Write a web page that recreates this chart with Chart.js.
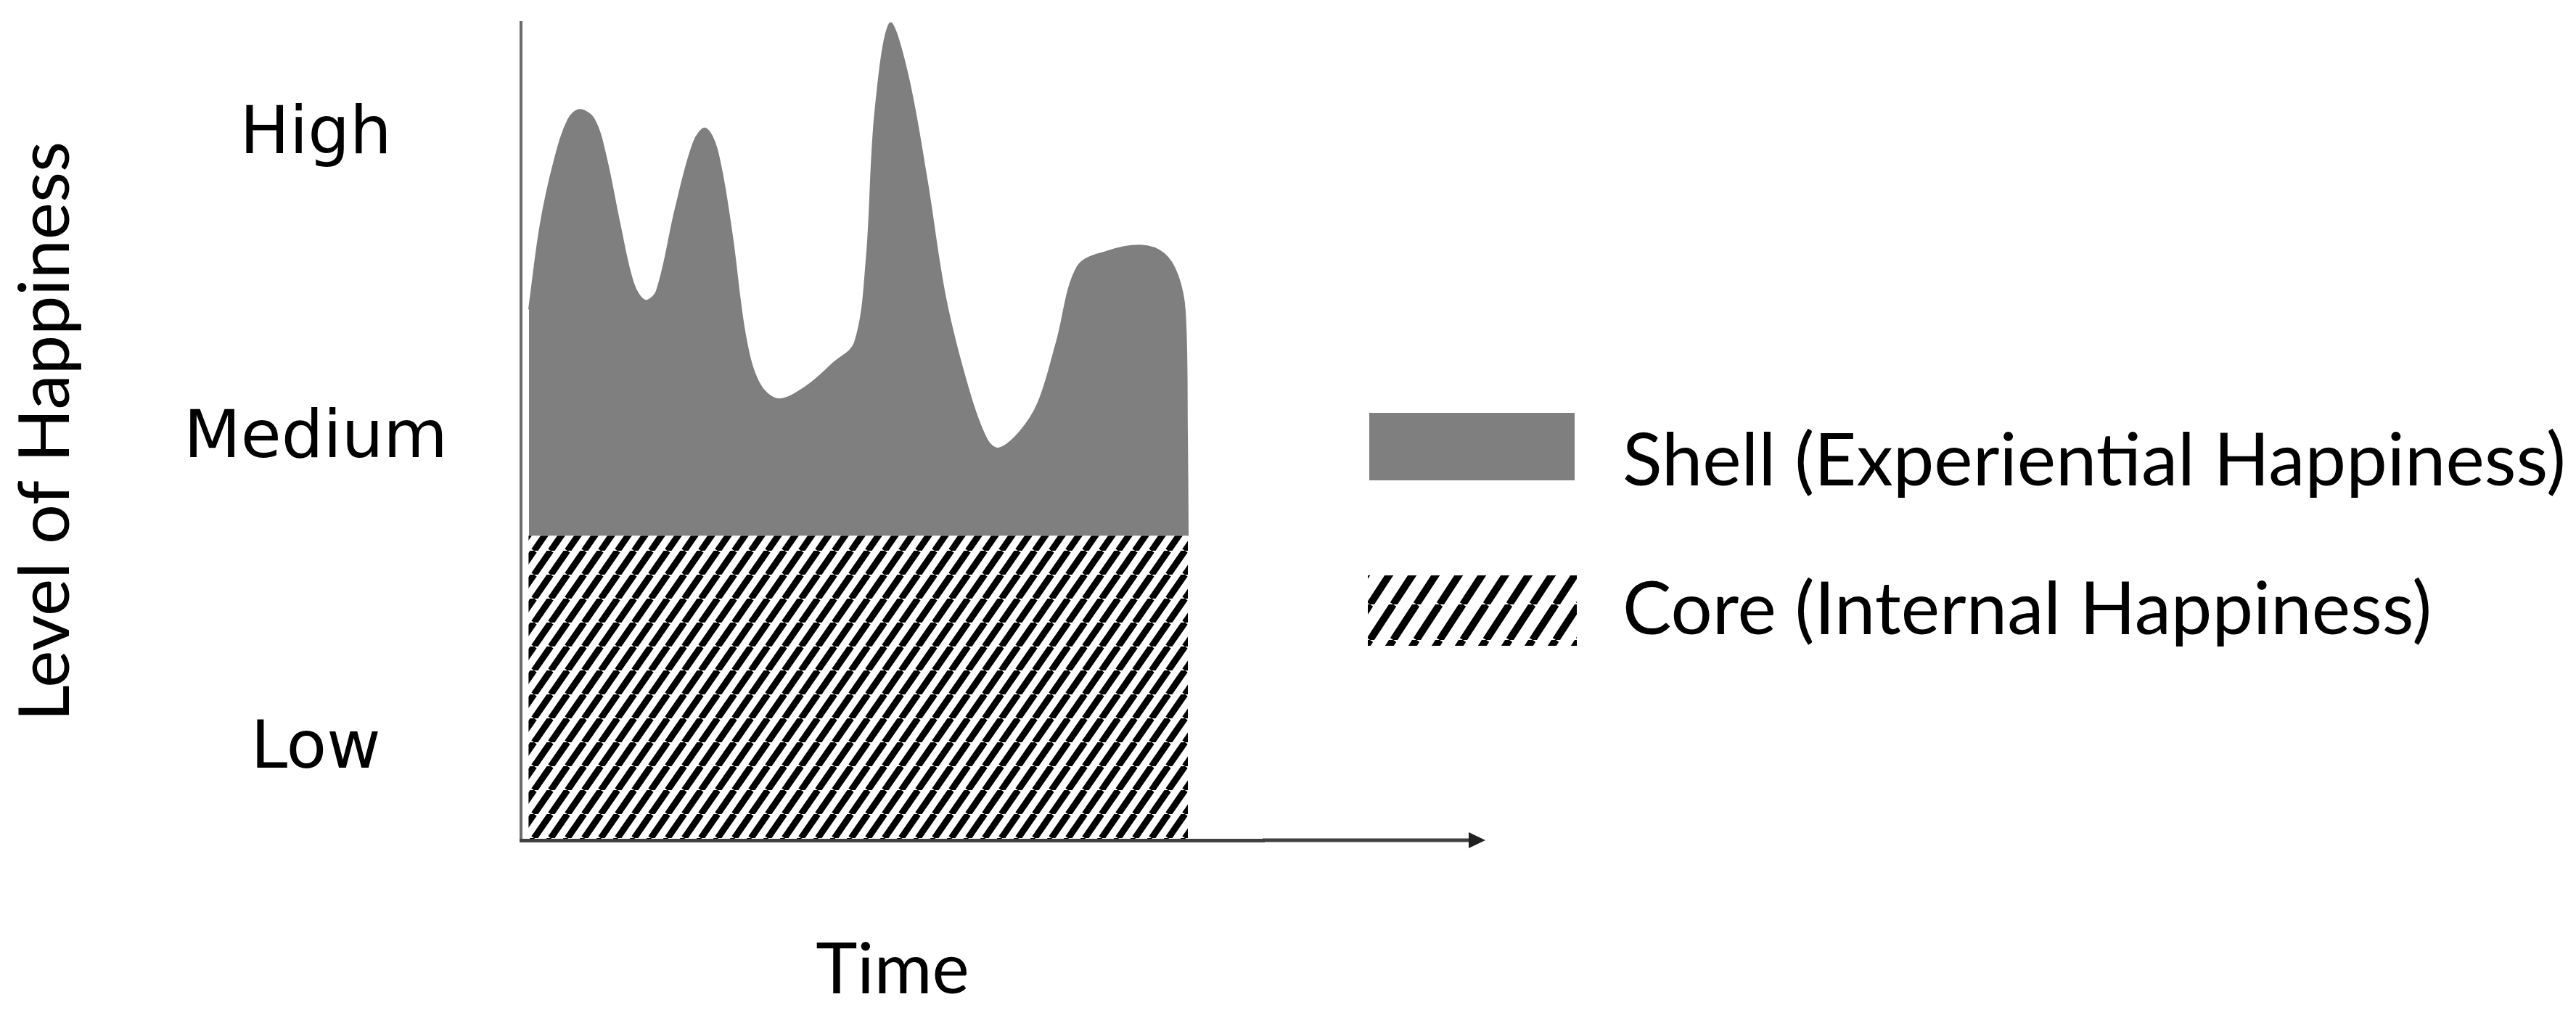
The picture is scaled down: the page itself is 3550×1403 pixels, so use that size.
<!DOCTYPE html>
<html>
<head>
<meta charset="utf-8">
<title>Level of Happiness</title>
<script src="https://cdn.jsdelivr.net/npm/chart.js@4"></script>
<style>
  body { margin: 0; background: #fff; }
  canvas { display: block; }
</style>
</head>
<body>
<canvas id="grafico" width="3550" height="1403"></canvas>
<script>
// dados (tempo 0..100, felicidade 0..101.2)
const seriesNames = ['Shell (Experiential Happiness)', 'Core (Internal Happiness)'];

const shellTime = [1.07, 2.64, 4.49, 6.35, 7.91, 9.86, 11.43, 13.28, 15.14, 16.70,
    18.26, 20.80, 23.24, 24.80, 26.37, 28.32, 30.18, 32.03, 34.57, 38.28,
    42.09, 44.92, 46.48, 47.66, 49.71, 52.05, 54.59, 57.13, 60.25, 62.70,
    64.26, 67.09, 69.63, 72.07, 74.90, 79.00, 83.40, 86.52, 88.38, 89.36,
    89.65, 89.75];
const shellLevel = [65.7, 76.3, 84.1, 89.2, 90.4, 89.2, 84.6, 76.3, 68.9, 66.8,
    68.0, 78.2, 86.4, 88.1, 85.5, 75.4, 62.5, 56.6, 54.6, 56.1,
    59.1, 61.6, 71.7, 90.1, 101.2, 94.7, 81.9, 67.1, 55.7, 49.6,
    48.5, 50.5, 54.2, 61.6, 71.0, 72.9, 73.6, 72.6, 69.9, 65.4,
    50.1, 37.7];

const coreTime = [1.0, 89.75];
const coreLevel = [37.7, 37.7];

const tickValues = [11.1, 49.5, 87.2];
const tickLabels = ['Low', 'Medium', 'High'];

const axisTitleY = 'Level of Happiness';
const axisTitleX = 'Time';

function hachura(w, h, lw) {
    const c = document.createElement('canvas');
    c.width = w;
    c.height = h;
    const g = c.getContext('2d');
    g.fillStyle = '#fff';
    g.fillRect(0, 0, w, h);
    g.strokeStyle = '#000';
    g.lineWidth = lw;
    for (let k = -1; k <= 1; k++) {
        g.beginPath();
        g.moveTo(k * w, h);
        g.lineTo(k * w + w, 0);
        g.stroke();
    }
    return g.createPattern(c, 'repeat');
}

const corePattern = hachura(23, 33, 9);
const legendPattern = hachura(32, 49, 10);
const shellColor = '#7f7f7f';
const textFont = 'Lato';

// legenda desenhada ao lado do grafico
const legendaLateral = {
    id: 'legendaLateral',
    afterDraw(chart) {
        const ctx = chart.ctx;
        const itens = [
            { fill: chart.data.datasets[0].backgroundColor, box: [1887, 569, 283, 93], base: 669 },
            { fill: legendPattern, box: [1885, 793, 288, 97], base: 874 }
        ];
        ctx.save();
        ctx.font = '101px ' + textFont;
        ctx.textBaseline = 'alphabetic';
        ctx.textAlign = 'left';
        itens.forEach((item, i) => {
            ctx.fillStyle = item.fill;
            ctx.fillRect(item.box[0], item.box[1], item.box[2], item.box[3]);
            ctx.fillStyle = '#000';
            ctx.fillText(chart.data.datasets[i].label, 2236, item.base);
        });
        ctx.restore();
    }
};

// seta no fim do eixo do tempo
const setaTempo = {
    id: 'setaTempo',
    afterDraw(chart) {
        const ctx = chart.ctx;
        const y = chart.scales.y.getPixelForValue(0);
        const x0 = chart.chartArea.right;
        ctx.save();
        ctx.strokeStyle = '#404040';
        ctx.lineWidth = 5;
        ctx.beginPath();
        ctx.moveTo(x0 - 2, y);
        ctx.lineTo(2030, y);
        ctx.stroke();
        ctx.fillStyle = '#202020';
        ctx.beginPath();
        ctx.moveTo(2047, y);
        ctx.lineTo(2024, y - 11);
        ctx.lineTo(2024, y + 11);
        ctx.closePath();
        ctx.fill();
        ctx.restore();
    }
};

const ctx = document.getElementById('grafico');

new Chart(ctx, {
    type: 'line',
    data: {
        datasets: [{
            label: seriesNames[0],
            data: shellTime.map((t, i) => ({ x: t, y: shellLevel[i] })),
            fill: { value: coreLevel[0] },
            backgroundColor: shellColor,
            borderColor: shellColor,
            borderWidth: 2,
            pointRadius: 0,
            tension: 0.35
        }, {
            label: seriesNames[1],
            data: coreTime.map((t, i) => ({ x: t, y: coreLevel[i] })),
            fill: 'origin',
            backgroundColor: corePattern,
            borderWidth: 0,
            pointRadius: 0
        }]
    },
    options: {
        responsive: false,
        animation: false,
        devicePixelRatio: 1,
        layout: { padding: { top: 31, right: 1808, bottom: 0, left: 0 } },
        plugins: {
            legend: { display: false },
            tooltip: { enabled: false }
        },
        scales: {
            x: {
                type: 'linear',
                min: 0,
                max: 100,
                grid: { display: false, drawTicks: false },
                ticks: { display: false },
                border: { display: true, color: '#404040', width: 5, z: 1 },
                title: {
                    display: true,
                    text: axisTitleX,
                    color: '#000',
                    font: { family: textFont, size: 97 },
                    padding: { top: 0, bottom: 7 }
                },
                afterFit: (scale) => {
                    scale.height = 245;
                    scale.paddingLeft = 0;
                    scale.paddingRight = 0;
                }
            },
            y: {
                min: 0,
                max: 101.2,
                afterBuildTicks: (scale) => {
                    scale.ticks = tickValues.map(v => ({ value: v }));
                },
                grid: { display: false, drawTicks: false },
                border: { display: true, color: '#6b6b6b', width: 4 },
                ticks: {
                    callback: (value, index) => tickLabels[index],
                    color: '#000',
                    font: { family: 'DejaVu Sans', size: 91 },
                    padding: 101,
                    crossAlign: 'center',
                    autoSkip: false
                },
                title: {
                    display: true,
                    text: axisTitleY,
                    color: '#000',
                    font: { family: textFont, size: 97 },
                    padding: { top: 6, bottom: 0 }
                },
                afterFit: (scale) => {
                    scale.width = 718;
                    scale.paddingTop = 0;
                    scale.paddingBottom = 0;
                }
            }
        }
    },
    plugins: [legendaLateral, setaTempo]
});
</script>
</body>
</html>
